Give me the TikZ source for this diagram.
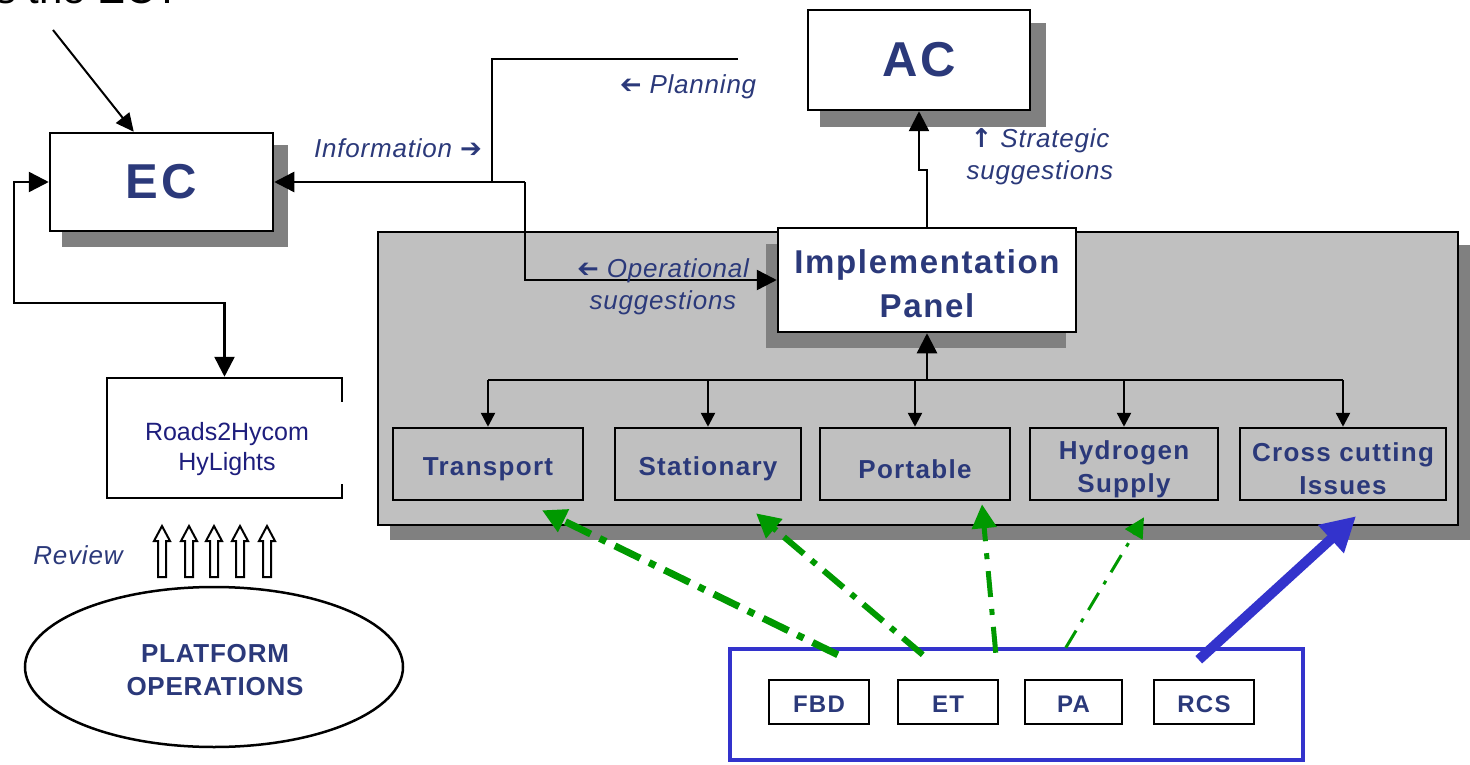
\documentclass[tikz,border=0pt]{standalone}
\usepackage{fontspec}
\usepackage{graphicx}
\setmainfont{Liberation Sans}
\newfontfamily\symf{DejaVu Sans}
\newfontfamily\lsa[LetterSpace=3]{Liberation Sans}
\newfontfamily\lsb[LetterSpace=5]{Liberation Sans}
\newfontfamily\lsc[LetterSpace=6]{Liberation Sans}
\usetikzlibrary{arrows.meta,shapes.geometric,calc}
\definecolor{txtblue}{RGB}{43,57,122}
\definecolor{navytxt}{RGB}{30,30,125}
\definecolor{panelgray}{RGB}{192,192,192}
\definecolor{shadowgray}{RGB}{128,128,128}
\definecolor{arrgreen}{RGB}{0,153,0}
\definecolor{boxblue}{RGB}{51,51,204}
\begin{document}
\begin{tikzpicture}[x=1pt,y=-1pt,
  box/.style={draw, line width=2.5pt, fill=white, inner sep=0pt, rectangle},
  bigbox/.style={box, text=txtblue, font=\lsc\bfseries\fontsize{49}{60}\selectfont},
  subbox/.style={box, fill=panelgray, minimum height=72pt},
  subtxt/.style={text=txtblue, align=center, inner sep=0pt, yshift=-5pt,
    font=\lsb\bfseries\fontsize{26}{33}\selectfont},
  smallbox/.style={box, minimum width=100pt, minimum height=44pt, text=txtblue,
    font=\lsb\bfseries\fontsize{24}{28}\selectfont, text depth=2pt, text height=23pt},
  shadow/.style={fill=shadowgray, draw=none},
  conn/.style={line width=2.5pt, -{Triangle[length=20pt,width=20pt]}},
  sconn/.style={line width=2.5pt, -{Triangle[length=14pt,width=14pt]}},
  lbl/.style={text=txtblue, align=center, inner sep=0pt, font=\lsa\itshape\fontsize{26}{32}\selectfont},
  garrow/.style={draw=arrgreen, -{Triangle[length=24pt,width=24pt]}},
  hollow/.style={draw, line width=2pt, fill=white, line join=miter}
]
\clip (0,0) rectangle (1470,765);
\fill[white] (0,0) rectangle (1470,765);

% cut-off heading
\node[anchor=base west, inner sep=0pt, font=\fontsize{42}{50}\selectfont] (heading) at (-5,4) {s the EC?};

% panel
\fill[shadow] (390,245) rectangle (1470,540);
\node[box, fill=panelgray, minimum width=1080pt, minimum height=293pt] (panel) at (918,378.5) {};

% shadows of boxes
\fill[shadow] (62,145) rectangle (288,247);
\fill[shadow] (820,23) rectangle (1046,127);
\fill[shadow] (766,244) rectangle (1066,348);

% main boxes
\node[bigbox, minimum width=223pt, minimum height=98pt] (EC) at (161.5,182) {EC};
\node[bigbox, minimum width=222pt, minimum height=100pt] (AC) at (919,60) {AC};
\node[box, minimum width=298pt, minimum height=104pt] (IP) at (927,280) {};
\node[text=txtblue, align=center, inner sep=0pt,
  font=\lsb\bfseries\fontsize{33}{44}\selectfont] (IPtxt) at (927,284) {Implementation\\Panel};

% sub boxes
\node[subbox, minimum width=190pt, label={[subtxt]center:Transport}] (Transport) at (488,464) {};
\node[subbox, minimum width=186pt, label={[subtxt]center:Stationary}] (Stationary) at (708,464) {};
\node[subbox, minimum width=190pt, label={[subtxt]center:Portable}] (Portable) at (915,464) {};
\node[subbox, minimum width=188pt, label={[subtxt]center:Hydrogen\\Supply}] (Hydrogen) at (1124,464) {};
\node[subbox, minimum width=206pt, label={[subtxt]center:Cross cutting\\Issues}] (Cross) at (1343,464) {};

% Roads2Hycom box
\node[box, minimum width=235pt, minimum height=120pt] (Roads) at (224.5,438) {};
\fill[white] (339,402) rectangle (345,484);
\node[text=navytxt, align=center, inner sep=0pt, font=\fontsize{25}{30}\selectfont] (roadstxt) at (227,449) {Roads2Hycom\\HyLights};

% ellipse
\node[ellipse, draw, line width=2.5pt, minimum width=378pt, minimum height=160pt, inner sep=0pt] (PO) at (214,667) {};
\node[text=txtblue, align=center, inner sep=0pt, font=\lsa\bfseries\fontsize{26}{33}\selectfont] (POtxt) at (215,670) {PLATFORM\\OPERATIONS};

% review arrows
\foreach \xx in {162,189,214,240,267}{
  \draw[hollow] (\xx-4,577) -- (\xx-4,541) -- (\xx-8,541) -- (\xx,526) -- (\xx+8,541) -- (\xx+4,541) -- (\xx+4,577) -- cycle;
}
\node[lbl] (review) at (78,555) {Review};

% bottom blue box
\node[draw=boxblue, line width=4.5pt, minimum width=573pt, minimum height=111pt, inner sep=0pt] (bluebox) at (1016.5,704.5) {};
\node[smallbox] (FBD) at (819,702) {FBD};
\node[smallbox] (ET) at (948,702) {ET};
\node[smallbox, minimum width=97pt] (PA) at (1073.5,702) {PA};
\node[smallbox] (RCS) at (1204,702) {RCS};

% connectors
\coordinate (topin) at (53,30);
\draw[line width=2pt, -{Triangle[length=18pt,width=17pt]}] (topin) -- ($(EC.north west)+(85,0)$);

\draw[line width=2.5pt, {Triangle[length=20pt,width=20pt]}-{Triangle[length=20pt,width=20pt]}]
  (EC.west) -- (14,182) -- (14,303) -- (Roads.north |- 0,303) -- (Roads.north);

\coordinate (j1) at (492,182);
\coordinate (j2) at (525,182);
\coordinate (plan) at (738,59);
\draw[line width=2.5pt] (plan) -- (492,59) -- (j1);
\draw[conn] (j2) -- (EC.east);
\draw[conn] (j2) |- (IP.west);

\draw[conn] (IP.north) -- (IP.north |- 0,170) -- (AC.south |- 0,170) -- (AC.south);

\draw[conn] (IP.south |- 0,380) -- (IP.south);
\draw[line width=2.5pt] (Transport.north |- 0,380) -- (Cross.north |- 0,380);
\foreach \n in {Transport,Stationary,Portable,Hydrogen,Cross}{
  \draw[sconn] (\n.north |- 0,380) -- (\n.north);
}

% labels
\node[lbl] (planlbl) at (688,87) {\reflectbox{\symf\bfseries ➔} Planning};
\node[lbl] (infolbl) at (398,148) {Information {\symf\bfseries ➔}};
\node[lbl] (stratlbl) at (1040,157) {{\symf\bfseries ↑} Strategic\\suggestions};
\node[lbl] (operlbl) at (663,287) {\reflectbox{\symf\bfseries ➔} Operational\\suggestions};

% green and blue arrows
\draw[garrow, line width=7pt, dash pattern=on 28pt off 10pt on 7pt off 10pt]
  ($(bluebox.north west)+(110,8)$) -- ($(Transport.south)+(54,9)$);
\draw[garrow, line width=6pt, dash pattern=on 26pt off 10pt on 6pt off 10pt]
  ($(bluebox.north west)+(195,8)$) -- ($(Stationary.south)+(48,12)$);
\draw[garrow, line width=5pt, dash pattern=on 26pt off 12pt on 6pt off 12pt]
  ($(bluebox.north west)+(268,6)$) -- ($(Portable.south)+(67,3)$);
\draw[garrow, line width=3pt, dash pattern=on 20pt off 10pt on 4pt off 10pt, -{Triangle[length=20pt,width=20pt]}]
  ($(bluebox.north west)+(338,1)$) -- ($(Hydrogen.south)+(20,16)$);
\draw[draw=boxblue, line width=10pt, -{Triangle[length=34pt,width=36pt]}]
  ($(bluebox.north west)+(471,13)$) -- ($(Cross.south)+(13,15)$);
\end{tikzpicture}
\end{document}
